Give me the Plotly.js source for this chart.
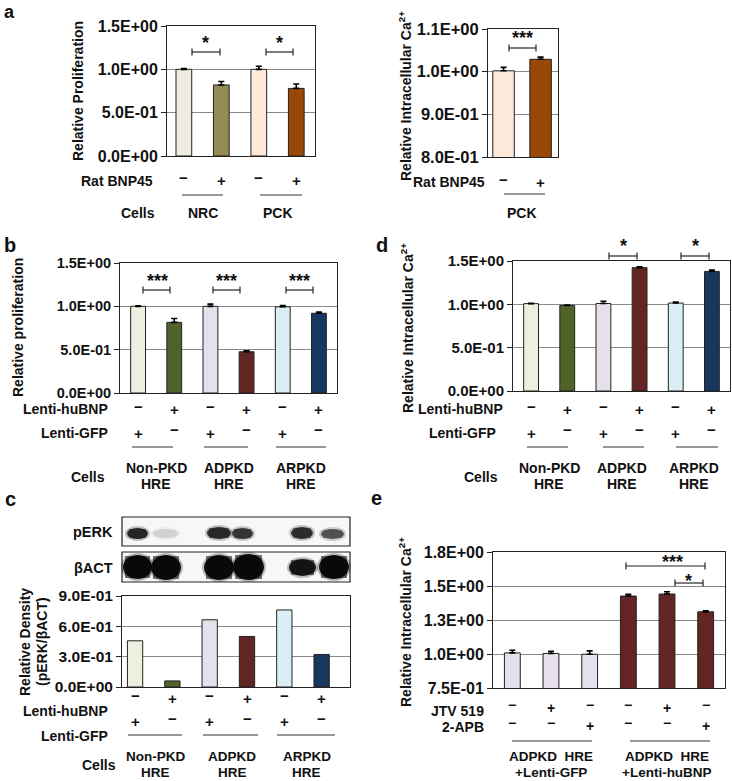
<!DOCTYPE html>
<html><head><meta charset="utf-8">
<script src="https://cdn.plot.ly/plotly-3.0.1.min.js"></script>
<style>html,body{margin:0;padding:0;background:#fff;} #chart{width:732px;height:781px;}</style>
</head><body><div id="chart"></div>
<script>
// ================= DATA =================
// Panel a (left): relative proliferation, Rat BNP45
const aCategories = ['NRC −', 'NRC +', 'PCK −', 'PCK +'];
const aProliferation = [1.00, 0.82, 1.00, 0.78];
const aProliferationErr = [0.01, 0.04, 0.035, 0.05];
const aBnpSigns = ['−', '+', '−', '+'];
const aCellGroups = ['NRC', 'PCK'];

// Panel a (right): relative intracellular Ca2+, PCK
const aCaCategories = ['PCK −', 'PCK +'];
const aCalcium = [1.002, 1.029];
const aCalciumErr = [0.008, 0.005];
const aCaBnpSigns = ['−', '+'];

// Panels b, c, d: HRE cells
const hreCategories = ['Non-PKD GFP', 'Non-PKD huBNP', 'ADPKD GFP', 'ADPKD huBNP', 'ARPKD GFP', 'ARPKD huBNP'];
const hreHuBnpSigns = ['−', '+', '−', '+', '−', '+'];
const hreGfpSigns = ['+', '−', '+', '−', '+', '−'];
const hreGroupsLine1 = ['Non-PKD', 'ADPKD', 'ARPKD'];
const hreGroupsLine2 = ['HRE', 'HRE', 'HRE'];
const bProliferation = [1.00, 0.815, 1.00, 0.476, 0.995, 0.92];
const bProliferationErr = [0.005, 0.045, 0.025, 0.012, 0.015, 0.015];
const dCalcium = [1.008, 0.988, 1.01, 1.423, 1.015, 1.38];
const dCalciumErr = [0.005, 0.005, 0.025, 0.01, 0.01, 0.015];
const cDensity = [0.457, 0.06, 0.665, 0.50, 0.762, 0.322];

// Panel e: ADPKD HRE + inhibitors
const eCategories = ['GFP ctrl', 'GFP JTV519', 'GFP 2-APB', 'huBNP ctrl', 'huBNP JTV519', 'huBNP 2-APB'];
const eCalcium = [1.008, 1.004, 0.998, 1.426, 1.441, 1.31];
const eCalciumErr = [0.02, 0.015, 0.025, 0.013, 0.017, 0.008];
const eJtvSigns = ['−', '+', '−', '−', '+', '−'];
const eApbSigns = ['−', '−', '+', '−', '−', '+'];
const eGroupsLine1 = ['ADPKD\u00a0 HRE', 'ADPKD\u00a0 HRE'];
const eGroupsLine2 = ['+Lenti-GFP', '+Lenti-huBNP'];

// Tick labels
const prolifTickVals = [0, 0.5, 1.0, 1.5];
const prolifTickText = ['0.0E+00', '5.0E-01', '1.0E+00', '1.5E+00'];
const aCaTickVals = [0.8, 0.9, 1.0, 1.1];
const aCaTickText = ['8.0E-01', '9.0E-01', '1.0E+00', '1.1E+00'];
const cTickVals = [0, 0.3, 0.6, 0.9];
const cTickText = ['0.0E+00', '3.0E-01', '6.0E-01', '9.0E-01'];
const eTickVals = [0.75, 1.0, 1.25, 1.5, 1.75];
const eTickText = ['7.5E-01', '1.0E+00', '1.3E+00', '1.5E+00', '1.8E+00'];

// Colours
const aColors = ['#EEECE1', '#948A54', '#FDE9D9', '#984807'];
const aCaColors = ['#FDE9D9', '#984807'];
const hreColors = ['#EBF1DE', '#4F6228', '#E5E0EC', '#632523', '#DBEEF4', '#17375E'];
const eColors = ['#E5E0EC', '#E5E0EC', '#E5E0EC', '#632523', '#632523', '#632523'];

// ================= LAYOUT HELPERS =================
const W = 732, H = 781;
const X = p => p / W;
const Y = p => 1 - p / H;
const FONT = 'Liberation Sans, Arial, sans-serif';
const INK = '#111';

function bar(xa, ya, cats, vals, errs, colors, width) {
  const t = {
    type: 'bar', xaxis: xa, yaxis: ya, x: cats, y: vals, width: width,
    marker: {color: colors, line: {color: '#222', width: 1}},
    hoverinfo: 'x+y', showlegend: false
  };
  if (errs) t.error_y = {type: 'data', array: errs, arrayminus: errs.map(() => 0), symmetric: false,
    color: '#000', thickness: 1.6, width: 3};
  return t;
}

const data = [
  bar('x', 'y', aCategories, aProliferation, aProliferationErr, aColors, 0.42),
  bar('x2', 'y2', aCaCategories, aCalcium, aCalciumErr, aCaColors, 0.58),
  bar('x3', 'y3', hreCategories, bProliferation, bProliferationErr, hreColors, 0.41),
  bar('x4', 'y4', hreCategories, dCalcium, dCalciumErr, hreColors, 0.41),
  bar('x5', 'y5', hreCategories, cDensity, null, hreColors, 0.41),
  bar('x6', 'y6', eCategories, eCalcium, eCalciumErr, eColors, 0.41)
];

function xax(px0, px1, range) {
  return {domain: [X(px0), X(px1)], range: range, type: 'category', showline: true, mirror: true,
    linecolor: '#222', linewidth: 1, showticklabels: false, ticks: '', showgrid: false,
    zeroline: false, fixedrange: true};
}
function yax(py0, py1, range, vals, text, size, anchor) {
  return {domain: [Y(py1), Y(py0)], range: range, anchor: anchor, showline: true, mirror: true,
    linecolor: '#222', linewidth: 1, ticks: 'outside', ticklen: 5, tickcolor: '#222',
    showgrid: true, gridcolor: '#8a8a8a', gridwidth: 1, zeroline: false, fixedrange: true,
    tickmode: 'array', tickvals: vals, ticktext: text,
    tickfont: {family: FONT, size: size, weight: 'bold', color: INK}};
}

const annotations = [];
const shapes = [];
function fnt(size) { return {family: FONT, size: size || 14, weight: 'bold', color: INK}; }
function txt(text, xpx, ypx, opts) {
  annotations.push(Object.assign({text: text, x: X(xpx), y: Y(ypx), xref: 'paper', yref: 'paper',
    showarrow: false, xanchor: 'center', yanchor: 'middle', font: fnt(14)}, opts || {}));
}
function rlabel(text, rightPx, ypx, size) {
  txt(text, rightPx, ypx, {xanchor: 'right', font: fnt(size || 14)});
}
function signs(xref, arr, ypx, size) {
  arr.forEach((s, i) => {
    annotations.push({text: s, x: i, xref: xref, y: Y(ypx - (s === '−' ? 3 : 0)), yref: 'paper',
      showarrow: false, xanchor: 'center', yanchor: 'middle', font: fnt(size || 15)});
  });
}
function groups(xref, labels, positions, ypx, size) {
  labels.forEach((l, i) => {
    annotations.push({text: l, x: positions[i], xref: xref, y: Y(ypx), yref: 'paper', borderpad: 0,
      showarrow: false, xanchor: 'center', yanchor: 'middle', font: fnt(size || 14)});
  });
}
function hline(x0, x1, y, color, w) {
  shapes.push({type: 'line', xref: 'paper', yref: 'paper', x0: X(x0), x1: X(x1), y0: Y(y), y1: Y(y),
    line: {color: color || '#333', width: w || 1}});
}
function bracket(x0, x1, y) {
  hline(x0, x1, y, '#222', 1.2);
  [x0, x1].forEach(x => shapes.push({type: 'line', xref: 'paper', yref: 'paper', x0: X(x), x1: X(x),
    y0: Y(y - 3.5), y1: Y(y + 3.5), line: {color: '#222', width: 1.2}}));
}
function stars(s, xpx, ypx, size) {
  txt(s, xpx, ypx + 3, {font: fnt(size || 18)});
}
function ytitle(text, xpx, ypx, size) {
  txt(text, xpx, ypx, {textangle: -90, font: fnt(size || 14)});
}

// ---- Panel labels ----
txt('a', 9, 12, {font: fnt(18), borderpad: 0});
txt('b', 10, 245, {font: fnt(20)});
txt('c', 10, 499, {font: fnt(20)});
txt('d', 382, 245, {font: fnt(20)});
txt('e', 376, 498, {font: fnt(20)});

// ---- Panel a left ----
ytitle('Relative Proliferation', 78, 91, 14);
bracket(192, 220, 52); stars('*', 206, 40);
bracket(266, 293, 52); stars('*', 279, 40);
rlabel('Rat BNP45', 155, 181);
signs('x', aBnpSigns, 181);
hline(182, 223, 195); hline(260, 302, 195);
rlabel('Cells', 157, 213);
groups('x', aCellGroups, [0.5, 2.5], 213);

// ---- Panel a right ----
ytitle('Relative Intracellular Ca<sup>2+</sup>', 405, 96, 14);
bracket(509, 536, 48); stars('***', 522, 35);
rlabel('Rat BNP45', 487, 182);
signs('x2', aCaBnpSigns, 182);
hline(504, 545, 194);
groups('x2', ['PCK'], [0.5], 213);

// ---- Panel b ----
ytitle('Relative proliferation', 18, 328, 14);
bracket(143, 170, 290); stars('***', 157, 278);
bracket(213, 240, 290); stars('***', 226, 278);
bracket(286, 313, 290); stars('***', 299, 278);
rlabel('Lenti-huBNP', 110, 409); signs('x3', hreHuBnpSigns, 409);
rlabel('Lenti-GFP', 110, 433); signs('x3', hreGfpSigns, 433);
hline(132, 173, 447); hline(204, 248, 447); hline(276, 326, 447);
rlabel('Cells', 107, 477);
groups('x3', hreGroupsLine1, [0.5, 2.5, 4.5], 468);
groups('x3', hreGroupsLine2, [0.5, 2.5, 4.5], 484);

// ---- Panel d ----
ytitle('Relative Intracellular Ca<sup>2+</sup>', 407, 328, 14);
bracket(609, 637, 256); stars('*', 623, 243);
bracket(681, 709, 256); stars('*', 695, 243);
rlabel('Lenti-huBNP', 505, 409); signs('x4', hreHuBnpSigns, 409);
rlabel('Lenti-GFP', 498, 433); signs('x4', hreGfpSigns, 433);
hline(527, 568, 447); hline(603, 644, 447); hline(676, 718, 447);
rlabel('Cells', 500, 477);
groups('x4', hreGroupsLine1, [0.5, 2.5, 4.5], 468);
groups('x4', hreGroupsLine2, [0.5, 2.5, 4.5], 484);

// ---- Panel c ----
ytitle('Relative Density', 25, 642, 14);
ytitle('(pERK/βACT)', 42, 642, 14);
rlabel('pERK', 115, 532, 14.5);
rlabel('βACT', 115, 568, 14.5);
signs('x5', hreHuBnpSigns, 698);
rlabel('Lenti-huBNP', 110, 711);
signs('x5', hreGfpSigns, 721);
rlabel('Lenti-GFP', 110, 736);
hline(128, 182, 735); hline(203, 258, 735); hline(277, 335, 735);
rlabel('Cells', 118, 765);
groups('x5', hreGroupsLine1, [0.55, 2.6, 4.6], 756, 13.5);
groups('x5', hreGroupsLine2, [0.55, 2.6, 4.6], 772, 13.5);

// Western blot picture (decoration)
[[517, 546], [552, 582]].forEach(([y0, y1]) => shapes.push({type: 'rect', xref: 'paper', yref: 'paper',
  x0: X(122), x1: X(350), y0: Y(y1), y1: Y(y0), line: {color: '#222', width: 1.2}, fillcolor: '#f7f7f7'}));
const pErkBlot = [[127, 148, 528, 539, '#1c1c1c'], [153, 178, 529, 538, '#cfcfcf'], [207, 231, 527, 539, '#202020'],
  [232, 253, 528, 539, '#2e2e2e'], [291, 313, 527, 539, '#252525'], [321, 344, 529, 539, '#4a4a4a']];
const actBlot = [[123, 152, 555, 579, '#000'], [151, 181, 555, 580, '#000'], [204, 234, 555, 580, '#000'],
  [233, 264, 554, 580, '#000'], [289, 316, 559, 576, '#0a0a0a'], [319, 349, 555, 579, '#000']];
pErkBlot.concat(actBlot).forEach(([x0, x1, y0, y1, c]) => {
  shapes.push({type: 'circle', xref: 'paper', yref: 'paper', x0: X(x0 - 2), x1: X(x1 + 2), y0: Y(y1 + 2), y1: Y(y0 - 2),
    line: {width: 0}, fillcolor: c, opacity: 0.25});
  shapes.push({type: 'rect', xref: 'paper', yref: 'paper', x0: X(x0 + 2), x1: X(x1 - 2), y0: Y(y1 - 1), y1: Y(y0 + 1),
    line: {width: 0}, fillcolor: c, opacity: 0.5});
  shapes.push({type: 'circle', xref: 'paper', yref: 'paper', x0: X(x0), x1: X(x1), y0: Y(y1), y1: Y(y0),
    line: {width: 0}, fillcolor: c, opacity: 0.9});
});

// ---- Panel e ----
ytitle('Relative Intracellular Ca<sup>2+</sup>', 405, 622, 14);
bracket(626, 705, 566); stars('***', 672, 559);
bracket(675, 703, 583); stars('*', 688, 578);
rlabel('JTV 519', 486, 711); signs('x6', eJtvSigns, 708, 14);
rlabel('2-APB', 486, 727); signs('x6', eApbSigns, 726, 14);
hline(512, 592, 741); hline(630, 710, 741);
groups('x6', eGroupsLine1, [1, 4], 756, 13.5);
groups('x6', eGroupsLine2, [1, 4], 772, 13.5);

const layout = {
  width: W, height: H, margin: {l: 0, r: 0, t: 0, b: 0},
  paper_bgcolor: '#fff', plot_bgcolor: '#fff', showlegend: false, bargap: 0,
  font: {family: FONT, color: INK},
  xaxis: xax(167, 315, [-0.45, 3.5]),
  yaxis: yax(26, 156, [0, 1.5], prolifTickVals, prolifTickText, 16, 'x'),
  xaxis2: xax(488, 558, [-0.42, 1.47]),
  yaxis2: yax(29, 157, [0.8, 1.1], aCaTickVals, aCaTickText, 16.5, 'x2'),
  xaxis3: xax(120, 337, [-0.5, 5.5]),
  yaxis3: yax(263, 393, [0, 1.5], prolifTickVals, prolifTickText, 14.5, 'x3'),
  xaxis4: xax(513, 730, [-0.5, 5.5]),
  yaxis4: yax(261, 391, [0, 1.5], prolifTickVals, prolifTickText, 15, 'x4'),
  xaxis5: xax(122, 350, [-0.35, 5.76]),
  yaxis5: yax(596, 687, [0, 0.9], cTickVals, cTickText, 15.5, 'x5'),
  xaxis6: xax(493, 725, [-0.5, 5.5]),
  yaxis6: yax(552, 688, [0.75, 1.75], eTickVals, eTickText, 16, 'x6'),
  annotations: annotations,
  shapes: shapes
};
['xaxis', 'xaxis2', 'xaxis3', 'xaxis4', 'xaxis5', 'xaxis6'].forEach((k, i) => {
  layout[k].anchor = 'y' + (i === 0 ? '' : i + 1);
});

Plotly.newPlot('chart', data, layout, {staticPlot: true, displayModeBar: false});
</script>
</body></html>
